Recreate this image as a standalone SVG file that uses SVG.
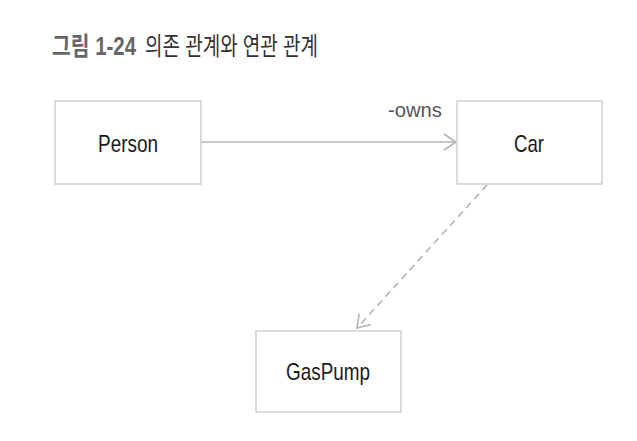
<svg xmlns="http://www.w3.org/2000/svg" width="637" height="441" viewBox="0 0 637 441">
<style>
.node rect{fill:#fff;stroke:#c8c8c8;stroke-width:1.3}
.node text{font-family:"Liberation Sans",Arial,sans-serif;font-size:24px;fill:#1a1a1a;text-anchor:middle}
.conn{fill:none;stroke:#b4b4b4;stroke-width:1.6}
.dash{stroke-dasharray:7,5}
.title{font-family:"Liberation Sans","Noto Sans CJK KR",sans-serif;font-size:25px}
</style>
<defs>
<marker id="open" viewBox="0 0 14 18" refX="13" refY="9" markerWidth="14" markerHeight="18" markerUnits="userSpaceOnUse" orient="auto">
<path d="M1,1 L13,9 L1,17" fill="none" stroke="#b4b4b4" stroke-width="1.6"/>
</marker>
</defs>
<rect width="637" height="441" fill="#fff"/>
<text class="title" x="52" y="55" fill="#666" font-weight="bold" textLength="84" lengthAdjust="spacingAndGlyphs">그림 1-24</text>
<text class="title" x="145" y="55" fill="#333" textLength="173" lengthAdjust="spacingAndGlyphs">의존 관계와 연관 관계</text>
<g id="connectors">
<line class="conn" x1="201" y1="142" x2="456" y2="142" marker-end="url(#open)"/>
<line class="conn dash" x1="487" y1="185" x2="357" y2="328" marker-end="url(#open)"/>
<text x="388" y="117" font-family="'Liberation Sans',Arial,sans-serif" font-size="21" fill="#555" textLength="54" lengthAdjust="spacingAndGlyphs">-owns</text>
</g>
<g id="person" class="node"><rect x="55" y="101" width="146" height="83"/><text x="128" y="152" textLength="60" lengthAdjust="spacingAndGlyphs">Person</text></g>
<g id="car" class="node"><rect x="457" y="101" width="145" height="83"/><text x="529" y="152" textLength="30" lengthAdjust="spacingAndGlyphs">Car</text></g>
<g id="gaspump" class="node"><rect x="256" y="331" width="145" height="81"/><text x="328" y="380" textLength="84" lengthAdjust="spacingAndGlyphs">GasPump</text></g>
</svg>
